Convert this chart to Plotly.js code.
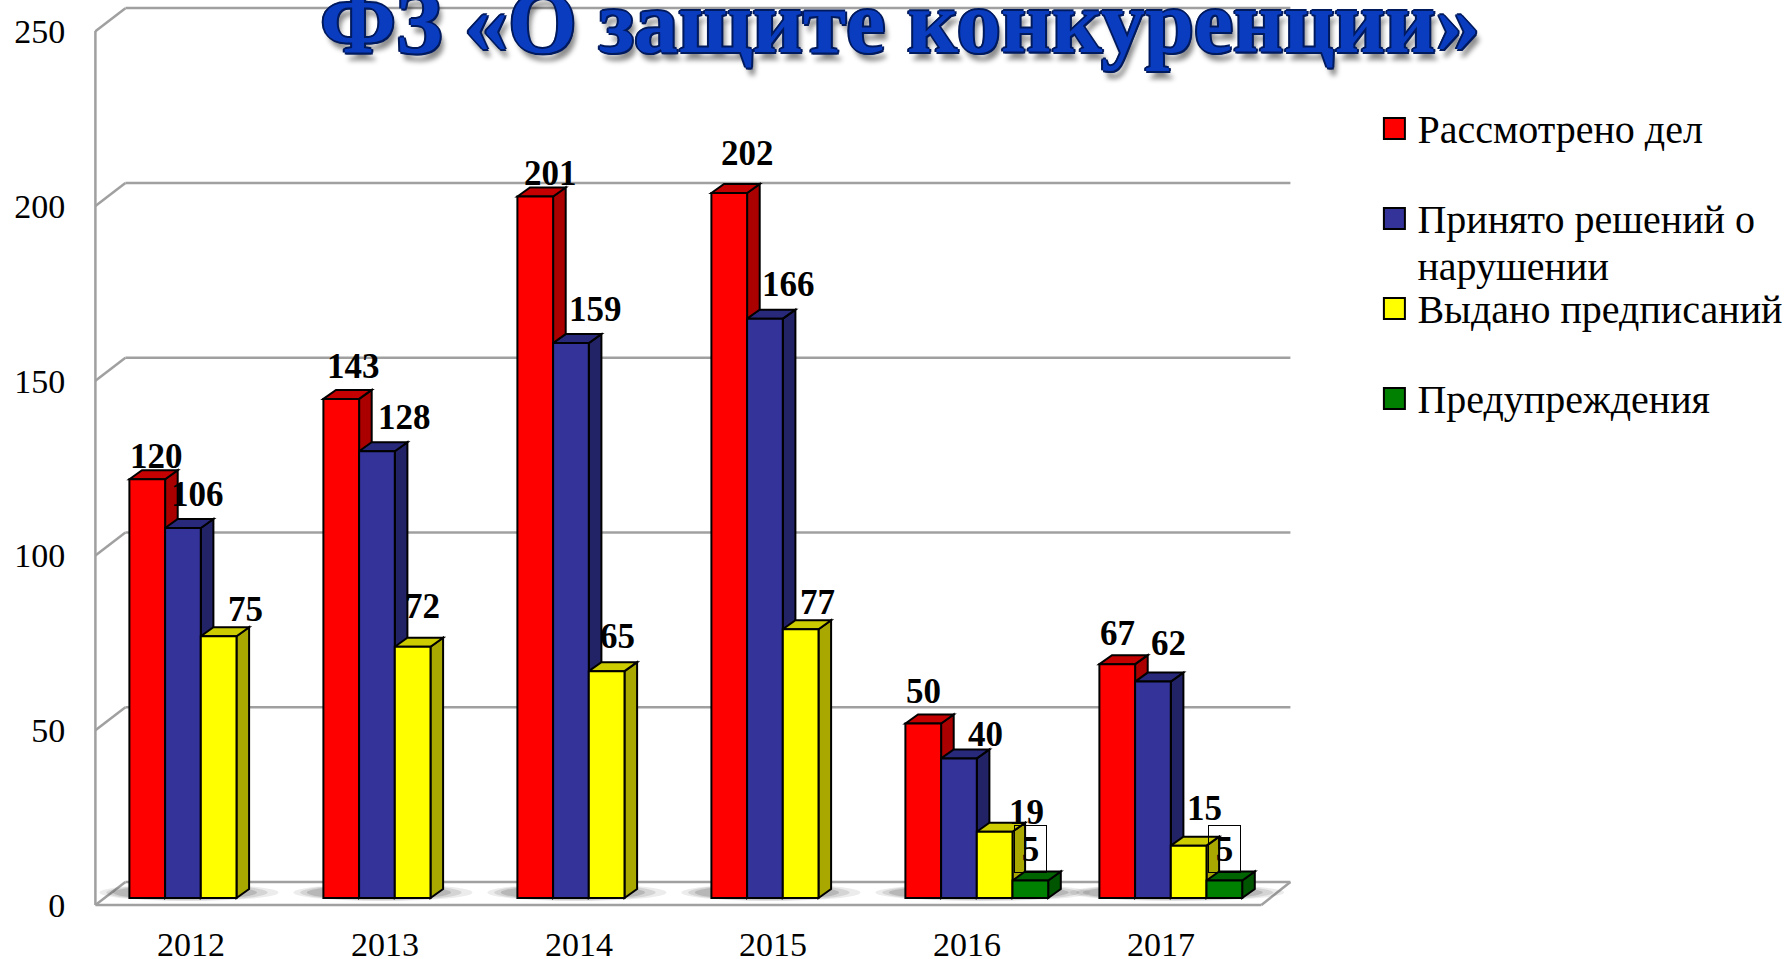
<!DOCTYPE html>
<html><head><meta charset="utf-8">
<script src="https://cdn.plot.ly/plotly-3.0.1.min.js"></script>
<style>html,body{margin:0;padding:0;background:#fff;overflow:hidden}</style>
</head><body><div id="chart" style="width:1789px;height:959px"></div>
<script>
const years = [2012, 2013, 2014, 2015, 2016, 2017];
const seriesNames = ['Рассмотрено дел', 'Принято решений о<br>нарушении', 'Выдано предписаний', 'Предупреждения'];
const reviewed = [120, 143, 201, 202, 50, 67];
const decisions = [106, 128, 159, 166, 40, 62];
const orders = [75, 72, 65, 77, 19, 15];
const warnings = [null, null, null, null, 5, 5];
const yTicks = [0, 50, 100, 150, 200, 250];
const titleText = 'ФЗ «О защите конкуренции»';

const values = [reviewed, decisions, orders, warnings];
const frontColors = ['#ff0000', '#333399', '#ffff00', '#008000'];
const sideColors = ['#aa0000', '#222266', '#a8a800', '#005500'];
const topColors = ['#c40000', '#29297c', '#cccc00', '#006400'];

// per-label displacement from the top-centre of its bar, px
const labelDx = [[9,12,15,18,0,0],[15,28,25,24,27,16],[27,10,11,17,32,16],[0,0,0,0,0,0]];
const labelDy = [[23,32,23,40,32,31],[34,34,34,34,24,38],[27,40,35,27,19,37],[0,0,0,0,32,32]];

const PX_X = 194, PX_Y = 3.49, BASE = 898, PLOT_H = 905;
const barW = 35.7 / PX_X;
const barOffsets = [-61.6, -25.9, 9.8, 45.5].map(p => p / PX_X);
const depthX = 12.6 / PX_X, depthY = 9 / PX_Y;
const L = 93.6, W = 6 * PX_X;
const paperX = p => (p - L) / W, paperY = p => 1 - p / PLOT_H;
const GRAY = '#a0a0a0';

const shapes = [];
const line = (x0, y0, x1, y1) => shapes.push({type:'line', layer:'below', xref:'paper', yref:'paper',
  x0:paperX(x0), y0:paperY(y0), x1:paperX(x1), y1:paperY(y1), line:{color:GRAY, width:2.5}});

// walls and floor
line(95, 905, 95, 31);
line(95, 905, 1261, 905);
line(1261, 905, 1290, 882);
yTicks.forEach(v => line(95, 905 - v * 3.495, 125, 882 - v * 3.495));
yTicks.forEach(v => { if (v < 250) line(125, 882 - v * 3.495, 1290, 882 - v * 3.495); });

// soft floor shadows, reaching a little past each group's own bars
years.forEach((yr, i) => {
  const count = values.filter(vals => vals[i] !== null).length;
  const left = 129 + PX_X * i, right = left + count * 35.7;
  [[1, 8, .10], [.66, 7, .14], [.33, 5, .2]].forEach(([k, h, op]) => {
    shapes.push({type:'circle', layer:'below', xref:'paper', yref:'paper', line:{width:0}, fillcolor:'#444', opacity:op,
      x0:paperX(left - 20 * k - 10), x1:paperX(right + 32 * k + 10), y0:paperY(897 + h / 2), y1:paperY(888 - h / 2)});
  });
});

// 3D side and top faces, in data units, drawn beneath the bar fronts
values.forEach((vals, s) => {
  vals.forEach((v, i) => {
    if (v === null) return;
    const a = years[i] + barOffsets[s], b = a + barW;
    const side = `M${b},0 L${b + depthX},${depthY} L${b + depthX},${v + depthY} L${b},${v} Z`;
    const top = `M${a},${v} L${a + depthX},${v + depthY} L${b + depthX},${v + depthY} L${b},${v} Z`;
    shapes.push({type:'path', layer:'below', xref:'x', yref:'y', path:side, fillcolor:sideColors[s], line:{color:'#000', width:2}});
    shapes.push({type:'path', layer:'below', xref:'x', yref:'y', path:top, fillcolor:topColors[s], line:{color:'#000', width:2}});
  });
});

// top back wall line sits over the title
shapes.push({type:'line', layer:'above', xref:'paper', yref:'paper',
  x0:paperX(125), y0:paperY(8), x1:paperX(1290), y1:paperY(8), line:{color:GRAY, width:2.5}});

const serif = '"Liberation Serif", serif';
const annotations = [];
values.forEach((vals, s) => vals.forEach((v, i) => {
  if (v === null) return;
  const boxed = s === 3;
  const a = {x: years[i] + barOffsets[s] + barW / 2, y: v, xref:'x', yref:'y', text: String(v), showarrow:false,
    xshift: labelDx[s][i], yshift: labelDy[s][i], xanchor:'center', yanchor:'middle',
    font:{family:serif, size:35, color:'#000', weight:700}};
  if (boxed) Object.assign(a, {bordercolor:'#000', borderwidth:1, width:31, height:46, borderpad:0, valign:'middle'});
  annotations.push(a);
}));

const traces = values.map((vals, s) => ({
  type:'bar', x:years, y:vals, name:seriesNames[s], width:barW, offset:barOffsets[s],
  marker:{color:frontColors[s], line:{color:'#000', width:2}},
  legend: s === 0 ? 'legend' : 'legend' + (s + 1), hoverinfo:'none'
}));
traces.push({type:'scatter', x:[], y:[], yaxis:'y2', showlegend:false, hoverinfo:'none'});

const legendAt = py => ({x:paperX(1377), y:paperY(py), xanchor:'left', yanchor:'top', bgcolor:'rgba(0,0,0,0)',
  borderwidth:0, itemclick:false, itemdoubleclick:false, font:{family:serif, size:40, color:'#000'}});

const layout = {
  width:1789, height:959, paper_bgcolor:'#fff', plot_bgcolor:'rgba(0,0,0,0)',
  margin:{l:L, r:1789 - L - W, t:0, b:959 - PLOT_H, autoexpand:false},
  barmode:'overlay', hovermode:false, showlegend:true,
  title:{text:titleText, x:900 / 1789, xanchor:'center', xref:'container', yref:'container', y:1 - 52 / 959, yanchor:'bottom',
    font:{family:serif, size:88, weight:700, color:'#0a3cc0',
      shadow:'2px 0 #001a5e,-2px 0 #001a5e,0 2px #001a5e,0 -2px #001a5e,1.5px 1.5px #001a5e,-1.5px -1.5px #001a5e,4px 8px 5px rgba(0,0,0,.45)'}},
  xaxis:{type:'linear', range:[years[0] - 0.5, years[5] + 0.5], tickvals:years, ticktext:years.map(String),
    ticks:'outside', ticklen:9, tickcolor:'rgba(0,0,0,0)', showgrid:false, zeroline:false, showline:false,
    tickfont:{family:serif, size:34, color:'#000'}, fixedrange:true},
  yaxis:{range:[(BASE - PLOT_H) / PX_Y, BASE / PX_Y], showticklabels:false, ticks:'', showgrid:false, zeroline:false, showline:false, fixedrange:true},
  yaxis2:{overlaying:'y', side:'left', range:[0, 905 / 3.495], tickvals:yTicks, ticks:'outside', ticklen:21,
    tickcolor:'rgba(0,0,0,0)', showgrid:false, zeroline:false, showline:false,
    tickfont:{family:serif, size:34, color:'#000'}, fixedrange:true},
  legend:legendAt(94.5), legend2:legendAt(184.5), legend3:legendAt(274.5), legend4:legendAt(364.5),
  shapes, annotations
};

Plotly.newPlot('chart', traces, layout, {displayModeBar:false, responsive:false}).then(() => {
  // enlarge the legend swatches to the reference's size and keep them on the first text line
  document.querySelectorAll('.legendpoints path').forEach(p => {
    const tspans = p.closest('.traces').querySelectorAll('text tspan.line');
    const multi = tspans.length > 1;
    p.setAttribute('d', 'M10.5,10.5H-10.5V-10.5H10.5Z');
    p.setAttribute('transform', `translate(17,${multi ? -24.5 : 1.5})`);
    p.style.strokeWidth = '2px';
    p.style.stroke = '#000';
    if (multi) tspans[1].setAttribute('dy', '47px');
  });
  // the wall's top line passes over the title
  const main = document.querySelector('.main-svg');
  const t = document.querySelector('.g-gtitle');
  const above = main.querySelector('.layer-above');
  if (t && above) above.parentNode.insertBefore(t, above);
});
</script></body></html>
